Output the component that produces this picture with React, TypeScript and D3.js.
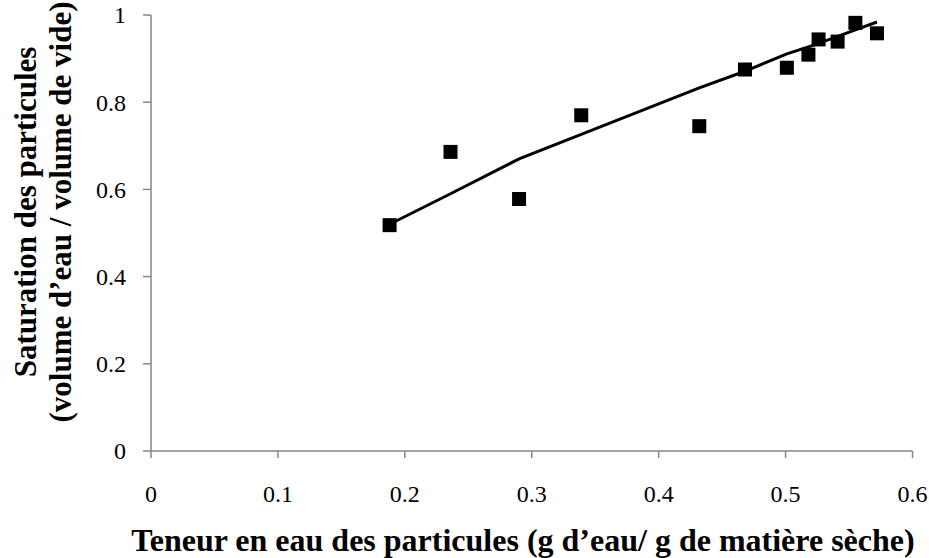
import React from "react";
import * as d3 from "d3";

const waterContent = [0.188, 0.236, 0.29, 0.339, 0.432, 0.468, 0.501, 0.518, 0.526, 0.541, 0.555, 0.572];
const saturation = [0.518, 0.686, 0.578, 0.77, 0.745, 0.875, 0.879, 0.909, 0.944, 0.939, 0.982, 0.958];
const fitted = [0.52, 0.59, 0.67, 0.726, 0.833, 0.871, 0.911, 0.927, 0.935, 0.951, 0.966, 0.984];
const xTicks = [0, 0.1, 0.2, 0.3, 0.4, 0.5, 0.6];
const yTicks = [0, 0.2, 0.4, 0.6, 0.8, 1];
const xTitle = "Teneur en eau des particules (g d\u2019eau/ g de mati\u00e8re s\u00e8che)";
const yTitle1 = "Saturation des particules";
const yTitle2 = "(volume d\u2019eau / volume de vide)";

export default function App() {
  const W = 929, H = 558;
  const x = d3.scaleLinear().domain([0, 0.6]).range([151, 912.5]);
  const y = d3.scaleLinear().domain([0, 1]).range([451, 15]);
  const axisColor = "#868686";
  const font = "'Liberation Serif', 'Times New Roman', serif";
  const pts = waterContent.map((v, i) => ({ x: v, y: saturation[i], f: fitted[i] }));
  const line = d3.line<{ x: number; f: number }>().x(d => x(d.x)).y(d => y(d.f));
  const ms = 14;
  return (
    <svg width={W} height={H} style={{ position: "absolute", left: 0, top: 0, background: "#fff" }}>
      <rect width={W} height={H} fill="#fff" />
      <line x1={x(0)} x2={x(0)} y1={y(1)} y2={y(0)} stroke={axisColor} strokeWidth={1.5} />
      <line x1={x(0)} x2={x(0.6)} y1={y(0)} y2={y(0)} stroke={axisColor} strokeWidth={1.5} />
      {yTicks.map(t => (
        <g key={"y" + t}>
          <line x1={x(0) - 8} x2={x(0)} y1={y(t)} y2={y(t)} stroke={axisColor} strokeWidth={1.5} />
          <text x={126} y={y(t)} dy="0.35em" textAnchor="end" fontFamily={font} fontSize={24} fill="#000">
            {String(t)}
          </text>
        </g>
      ))}
      {xTicks.map(t => (
        <g key={"x" + t}>
          <line x1={x(t)} x2={x(t)} y1={y(0)} y2={y(0) + 7} stroke={axisColor} strokeWidth={1.5} />
          <text x={x(t)} y={502} textAnchor="middle" fontFamily={font} fontSize={24} fill="#000">
            {String(t)}
          </text>
        </g>
      ))}
      <path d={line(pts) || ""} fill="none" stroke="#000" strokeWidth={3} />
      {pts.map((p, i) => (
        <rect key={i} x={x(p.x) - ms / 2} y={y(p.y) - ms / 2} width={ms} height={ms} fill="#000" />
      ))}
      <text x={523} y={551} textAnchor="middle" fontFamily={font} fontWeight="bold" fontSize={32} fill="#000">
        {xTitle}
      </text>
      <g transform="translate(0,212) rotate(-90)">
        <text x={0} y={36} textAnchor="middle" fontFamily={font} fontWeight="bold" fontSize={31} fill="#000">
          {yTitle1}
        </text>
        <text x={0} y={71} textAnchor="middle" fontFamily={font} fontWeight="bold" fontSize={31} fill="#000">
          {yTitle2}
        </text>
      </g>
    </svg>
  );
}
